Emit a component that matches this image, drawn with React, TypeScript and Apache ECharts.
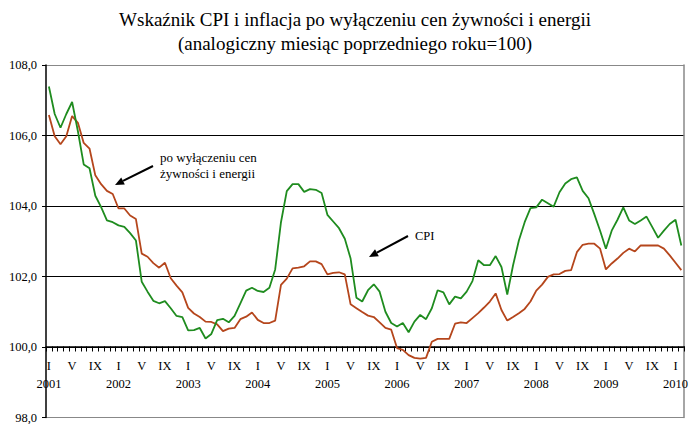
import React, { useEffect, useRef } from "react";
import * as echarts from "echarts";

const YEARS = ["2001", "2002", "2003", "2004", "2005", "2006", "2007", "2008", "2009", "2010"];
const ROMAN_MONTHS = ["I", "II", "III", "IV", "V", "VI", "VII", "VIII", "IX", "X", "XI", "XII"];
const SHOWN_MONTHS = ["I", "V", "IX"];
const MONTH_COUNT = 110; // Jan 2001 .. Feb 2010

const Y_TICKS_MIN = 98;
const Y_TICKS_MAX = 108;
const Y_INTERVAL = 2;

const TITLE_LINE_1 = "Wskaźnik CPI i inflacja po wyłączeniu cen żywności i energii";
const TITLE_LINE_2 = "(analogiczny miesiąc poprzedniego roku=100)";
const NOTE_CORE = ["po wyłączeniu cen", "żywności i energii"];
const NOTE_CPI = "CPI";

// CPI, analogous month of previous year = 100
const cpi = [
  107.39, 106.61, 106.22, 106.61, 106.95, 106.12, 105.18, 105.07, 104.29, 103.97, 103.59, 103.54,
  103.45, 103.41, 103.23, 103.02, 101.85, 101.57, 101.31, 101.24, 101.30, 101.10, 100.88, 100.85,
  100.47, 100.48, 100.54, 100.24, 100.37, 100.76, 100.80, 100.70, 100.88, 101.24, 101.60, 101.68,
  101.59, 101.56, 101.68, 102.20, 103.54, 104.42, 104.62, 104.62, 104.40, 104.48, 104.46, 104.37,
  103.75, 103.56, 103.37, 103.07, 102.51, 101.40, 101.29, 101.61, 101.78, 101.57, 101.00, 100.68,
  100.58, 100.68, 100.42, 100.72, 100.91, 100.79, 101.10, 101.61, 101.55, 101.21, 101.43, 101.38,
  101.57, 101.87, 102.46, 102.32, 102.32, 102.58, 102.27, 101.49, 102.32, 103.02, 103.54, 103.94,
  103.96, 104.18, 104.08, 103.98, 104.39, 104.64, 104.76, 104.81, 104.43, 104.22, 103.77, 103.30,
  102.79, 103.30, 103.61, 103.96, 103.59, 103.49, 103.59, 103.70, 103.40, 103.10, 103.30, 103.49,
  103.61, 102.88,
];

// inflation excluding food and energy prices
const core = [
  106.58, 105.98, 105.75, 105.98, 106.55, 106.36, 105.79, 105.63, 104.87, 104.62, 104.43, 104.34,
  103.93, 103.93, 103.73, 103.63, 102.65, 102.56, 102.38, 102.25, 102.39, 101.95, 101.74, 101.55,
  101.11, 100.95, 100.85, 100.72, 100.71, 100.64, 100.45, 100.52, 100.54, 100.79, 100.86, 100.98,
  100.77, 100.68, 100.68, 100.75, 101.76, 101.94, 102.23, 102.25, 102.29, 102.43, 102.43, 102.35,
  102.06, 102.10, 102.12, 102.06, 101.21, 101.10, 100.99, 100.89, 100.85, 100.70, 100.54, 100.49,
  99.97, 99.92, 99.77, 99.69, 99.67, 99.69, 100.15, 100.23, 100.23, 100.23, 100.66, 100.70,
  100.68, 100.82, 100.96, 101.12, 101.29, 101.52, 101.05, 100.75, 100.85, 100.96, 101.08, 101.29,
  101.60, 101.77, 101.99, 102.06, 102.07, 102.16, 102.18, 102.69, 102.90, 102.93, 102.93, 102.79,
  102.20, 102.37, 102.51, 102.67, 102.79, 102.71, 102.88, 102.88, 102.88, 102.88, 102.79, 102.60,
  102.39, 102.18,
];

const FONT = '"Liberation Serif", "Times New Roman", serif';

function buildCategories() {
  const cats: { month: string; year: string }[] = [];
  for (let i = 0; i < MONTH_COUNT; i++) {
    cats.push({ year: YEARS[Math.floor(i / 12)], month: ROMAN_MONTHS[i % 12] });
  }
  return cats;
}

function arrow(x1: number, y1: number, x2: number, y2: number) {
  const dx = x2 - x1;
  const dy = y2 - y1;
  const len = Math.sqrt(dx * dx + dy * dy);
  const ux = dx / len;
  const uy = dy / len;
  const headLen = 9;
  const half = 4;
  const bx = x2 - ux * headLen;
  const by = y2 - uy * headLen;
  const px = -uy * half;
  const py = ux * half;
  return [
    {
      type: "line",
      shape: { x1, y1, x2: bx, y2: by },
      style: { stroke: "#000", lineWidth: 2 },
      silent: true,
    },
    {
      type: "polygon",
      shape: { points: [[x2, y2], [bx + px, by + py], [bx - px, by - py]] },
      style: { fill: "#000" },
      silent: true,
    },
  ];
}

export default function App() {
  const ref = useRef<HTMLDivElement>(null);

  useEffect(() => {
    if (!ref.current) return;
    const chart = echarts.init(ref.current, null, { renderer: "svg" });
    const cats = buildCategories();

    const option: any = {
      animation: false,
      backgroundColor: "#ffffff",
      grid: { left: 46, right: 2, top: 65, bottom: 4, containLabel: false },
      xAxis: {
        type: "category",
        data: cats.map((c) => c.month + " " + c.year),
        boundaryGap: true,
        offset: -71,
        axisLine: { show: true, onZero: false, lineStyle: { color: "#000", width: 1.5 } },
        axisTick: { show: true, interval: 0, length: 5, alignWithLabel: false, lineStyle: { color: "#000", width: 1 } },
        axisLabel: {
          interval: 0,
          color: "#000",
          fontFamily: FONT,
          fontSize: 12.5,
          lineHeight: 18,
          margin: 10,
          formatter: (_v: string, idx: number) => {
            const c = cats[idx];
            if (!c || SHOWN_MONTHS.indexOf(c.month) < 0) return "";
            return c.month === "I" ? c.month + "\n" + c.year : c.month;
          },
        },
        splitLine: { show: false },
      },
      yAxis: [
        {
          type: "value",
          min: Y_TICKS_MIN,
          max: Y_TICKS_MAX,
          interval: Y_INTERVAL,
          axisLine: { show: true, onZero: false, lineStyle: { color: "#000", width: 1.5 } },
          axisTick: { show: true, length: 4, lineStyle: { color: "#000" } },
          axisLabel: {
            color: "#000",
            fontFamily: FONT,
            fontSize: 12.5,
            margin: 9,
            formatter: (v: number) => v.toFixed(1).replace(".", ","),
          },
          splitLine: {
            show: true,
            lineStyle: { color: ["#888888", "#000000", "#000000", "#000000", "#000000", "#888888"], width: 1 },
          },
        },
        {
          type: "value",
          position: "right",
          min: Y_TICKS_MIN,
          max: Y_TICKS_MAX,
          interval: Y_INTERVAL,
          axisLine: { show: true, onZero: false, lineStyle: { color: "#888888", width: 1.5 } },
          axisTick: { show: false },
          axisLabel: { show: false },
          splitLine: { show: false },
        },
      ],
      series: [
        {
          name: "po wyłączeniu cen żywności i energii",
          type: "line",
          data: core,
          symbol: "none",
          lineStyle: { color: "#B5461C", width: 1.8 },
          z: 3,
        },
        {
          name: "CPI",
          type: "line",
          data: cpi,
          symbol: "none",
          lineStyle: { color: "#1F8C1F", width: 1.8 },
          z: 4,
        },
      ],
      graphic: [
        {
          type: "text",
          x: 355,
          y: 19,
          silent: true,
          style: { text: TITLE_LINE_1, font: `19px ${FONT}`, fill: "#000", align: "center", verticalAlign: "middle" },
        },
        {
          type: "text",
          x: 355,
          y: 43,
          silent: true,
          style: { text: TITLE_LINE_2, font: `19px ${FONT}`, fill: "#000", align: "center", verticalAlign: "middle" },
        },
        {
          type: "text",
          x: 160,
          y: 157,
          silent: true,
          style: { text: NOTE_CORE[0], font: `13px ${FONT}`, fill: "#000", align: "left", verticalAlign: "middle" },
        },
        {
          type: "text",
          x: 160,
          y: 173,
          silent: true,
          style: { text: NOTE_CORE[1], font: `13px ${FONT}`, fill: "#000", align: "left", verticalAlign: "middle" },
        },
        {
          type: "text",
          x: 415,
          y: 235.5,
          silent: true,
          style: { text: NOTE_CPI, font: `12.5px ${FONT}`, fill: "#000", align: "left", verticalAlign: "middle" },
        },
        ...arrow(153, 166, 115, 185),
        ...arrow(408, 236, 369, 257),
      ],
    };

    chart.setOption(option);
    return () => chart.dispose();
  }, []);

  return (
    <div
      ref={ref}
      style={{ position: "fixed", left: 0, top: 0, width: 691, height: 424, background: "#fff" }}
    />
  );
}
